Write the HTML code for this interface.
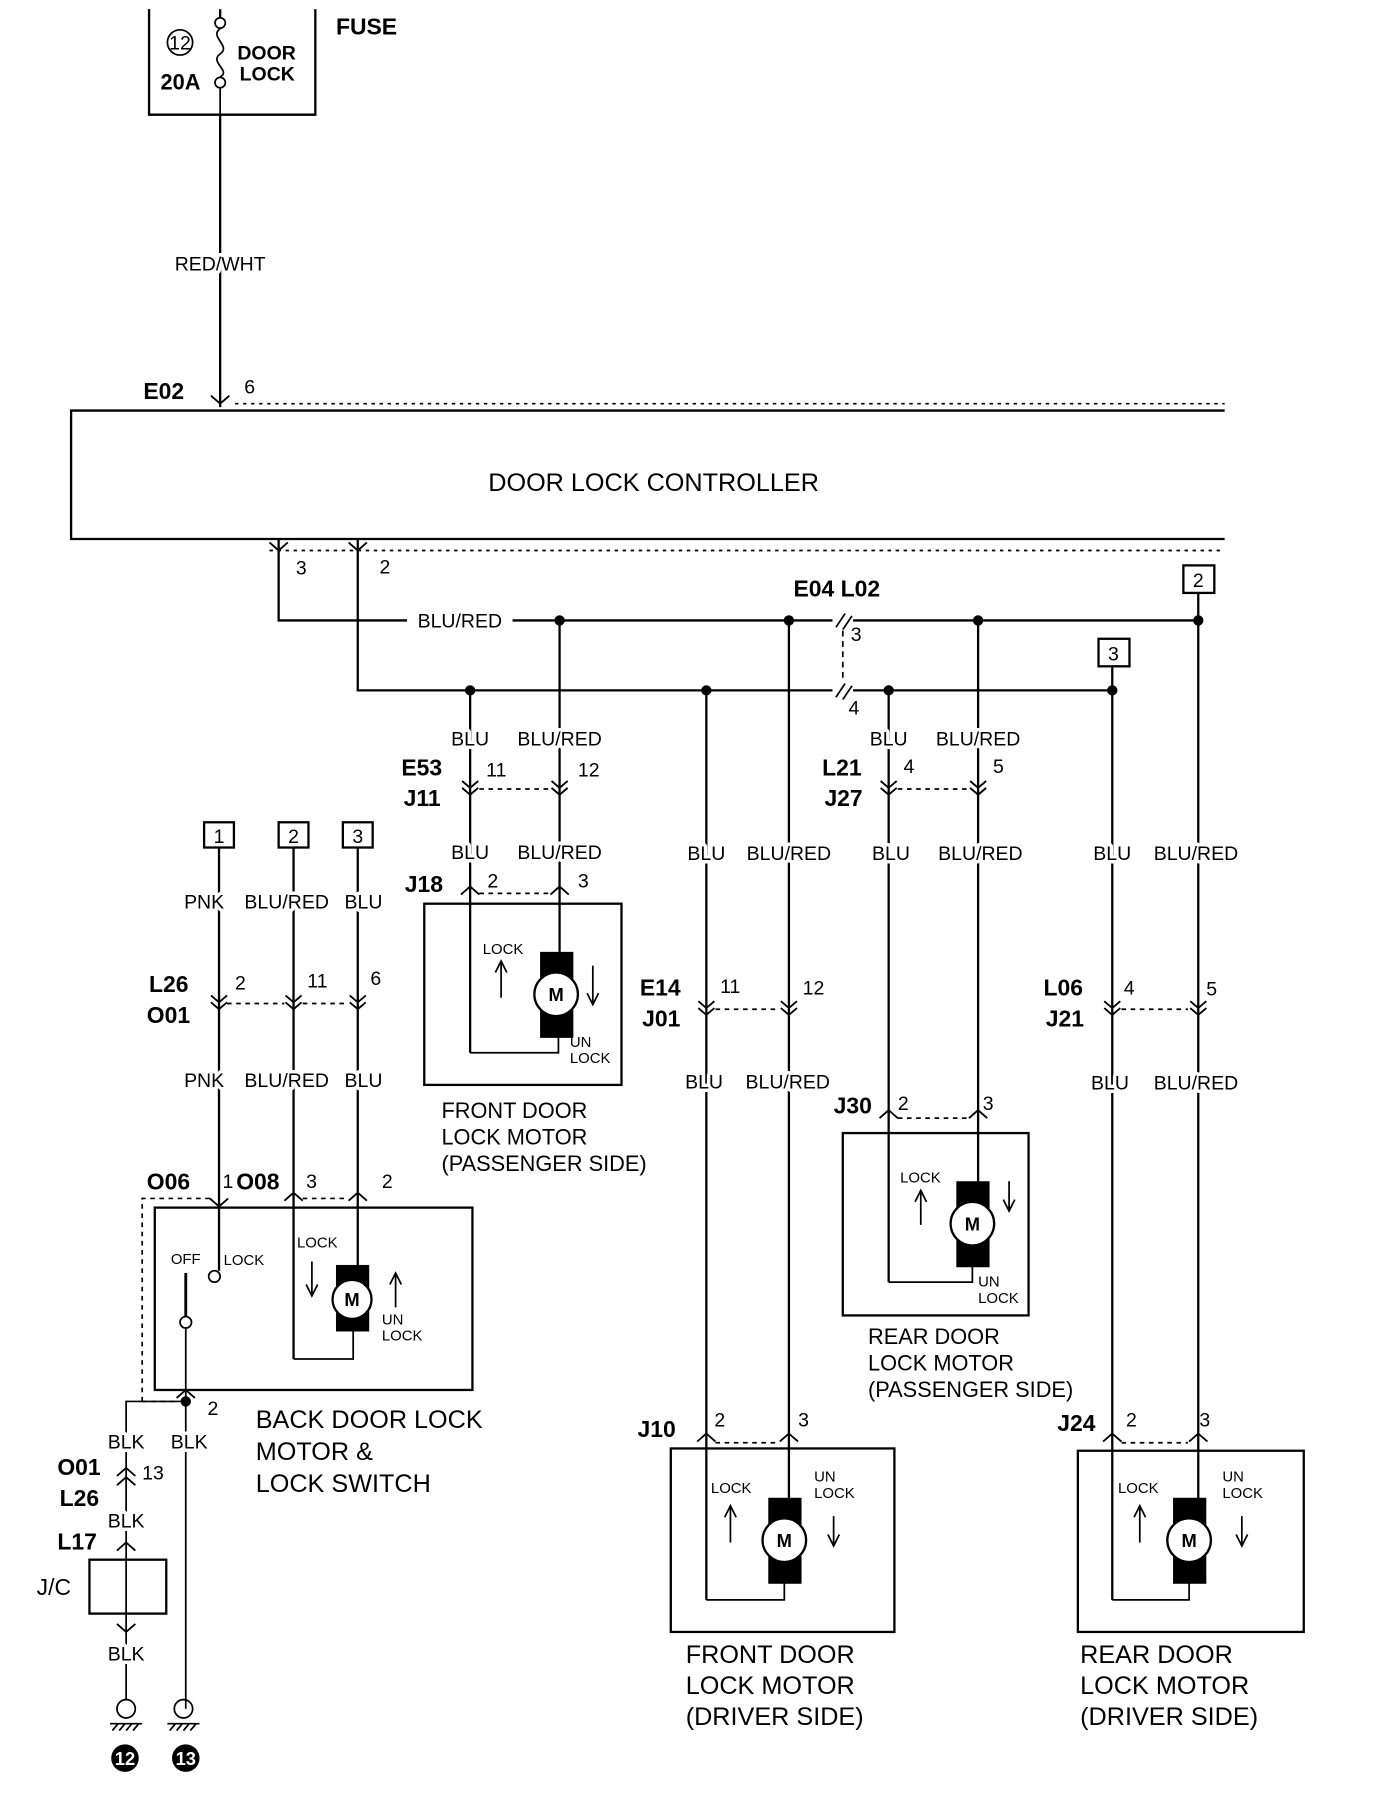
<!DOCTYPE html>
<html><head><meta charset="utf-8"><style>
html,body{margin:0;padding:0;background:#fff;}
svg{display:block;}
text{font-family:"Liberation Sans",sans-serif;fill:#000;}
.s{font-size:17px;}
.b{font-size:20px;font-weight:bold;}
.t{font-size:13px;}
.c{font-size:22px;}
.w{stroke:#fff;stroke-width:6px;paint-order:stroke;stroke-linejoin:round;}
</style></head><body>
<svg width="1376" height="1812" viewBox="0 0 1200 1580" preserveAspectRatio="none" xmlns="http://www.w3.org/2000/svg">
<defs>
<g id="vv"><path d="M-7,-9 L0,-3 L7,-9 M-7,-3 L0,3 L7,-3" fill="none" stroke="#000" stroke-width="1.6"/></g>
<g id="up"><path d="M-8,7 L0,0 L8,7" fill="none" stroke="#000" stroke-width="1.6"/></g>
<g id="dn"><path d="M-8,-7 L0,0 L8,-7" fill="none" stroke="#000" stroke-width="1.6"/></g>
</defs>
<g stroke="#000" fill="none" stroke-width="2">
<path d="M130,8 V100 H275 V8"/>
<line x1="192" y1="100" x2="192" y2="355"/>
<line x1="192" y1="8" x2="192" y2="16"/>
<circle cx="192" cy="20" r="4.5" stroke-width="1.5"/>
<circle cx="192" cy="72" r="4.5" stroke-width="1.5"/>
<path d="M192,25 C182,32 202,40 192,47 C182,54 202,62 192,67" stroke-width="1.5"/>
<line x1="192" y1="77" x2="192" y2="100" stroke-width="1.5"/>
<circle cx="157" cy="37" r="11" stroke-width="1.5"/>
<path d="M1068,358 H62 V470 H1068"/>
<line x1="205" y1="352" x2="1068" y2="352" stroke-dasharray="3,4" stroke-width="1.5"/>
<line x1="235" y1="480" x2="1068" y2="480" stroke-dasharray="3,4" stroke-width="1.5"/>
<path d="M243,470 V541 H355 M447,541 H726 M744,541 H1045"/>
<path d="M312,470 V602 H726 M744,602 H970"/>
<line x1="735" y1="550" x2="735" y2="595" stroke-dasharray="5,4" stroke-width="1.5"/>
<path d="M729,547 L737,535 M735,549 L743,537 M729,608 L737,596 M735,610 L743,598" stroke-width="1.5"/>
<line x1="410" y1="602" x2="410" y2="918"/>
<line x1="488" y1="541" x2="488" y2="830"/>
<line x1="616" y1="602" x2="616" y2="1395"/>
<line x1="688" y1="541" x2="688" y2="1315"/>
<line x1="775" y1="602" x2="775" y2="1118"/>
<line x1="853" y1="541" x2="853" y2="1030"/>
<line x1="970" y1="602" x2="970" y2="1395"/>
<line x1="1045" y1="541" x2="1045" y2="1315"/>
<line x1="1045" y1="517" x2="1045" y2="541"/>
<line x1="970" y1="580" x2="970" y2="602"/>
<rect x="1032" y="493" width="27" height="24"/>
<rect x="958" y="557" width="27" height="24"/>
<line x1="418" y1="688" x2="480" y2="688" stroke-dasharray="4,4" stroke-width="1.5"/>
<line x1="783" y1="688" x2="845" y2="688" stroke-dasharray="4,4" stroke-width="1.5"/>
<line x1="418" y1="779" x2="480" y2="779" stroke-dasharray="4,4" stroke-width="1.5"/>
<line x1="624" y1="880" x2="680" y2="880" stroke-dasharray="4,4" stroke-width="1.5"/>
<line x1="978" y1="880" x2="1036" y2="880" stroke-dasharray="4,4" stroke-width="1.5"/>
<line x1="783" y1="975" x2="845" y2="975" stroke-dasharray="4,4" stroke-width="1.5"/>
<line x1="624" y1="1258" x2="680" y2="1258" stroke-dasharray="4,4" stroke-width="1.5"/>
<line x1="978" y1="1258" x2="1036" y2="1258" stroke-dasharray="4,4" stroke-width="1.5"/>
<rect x="370" y="788" width="172" height="158"/>
<path d="M410,918 H487 V885" stroke-width="1.5"/>
<rect x="735" y="988" width="162" height="159"/>
<path d="M775,1118 H848 V1085" stroke-width="1.5"/>
<rect x="585" y="1263" width="195" height="160"/>
<path d="M616,1395 H684 V1360" stroke-width="1.5"/>
<rect x="940" y="1265" width="197" height="158"/>
<path d="M970,1395 H1037 V1360" stroke-width="1.5"/>
<rect x="178" y="717" width="26" height="22"/>
<rect x="243" y="717" width="26" height="22"/>
<rect x="299" y="717" width="26" height="22"/>
<line x1="191" y1="739" x2="191" y2="1108"/>
<line x1="256" y1="739" x2="256" y2="1185"/>
<line x1="312" y1="739" x2="312" y2="1103"/>
<line x1="198" y1="875" x2="248" y2="875" stroke-dasharray="4,4" stroke-width="1.5"/>
<line x1="264" y1="875" x2="304" y2="875" stroke-dasharray="4,4" stroke-width="1.5"/>
<path d="M124,1222 V1045 H183 M264,1045 H304" stroke-dasharray="4,4" stroke-width="1.5"/>
<line x1="124" y1="1222" x2="155" y2="1222" stroke-dasharray="4,4" stroke-width="1.5"/>
<rect x="135" y="1053" width="277" height="159"/>
<circle cx="187" cy="1113" r="5" stroke-width="1.5"/>
<circle cx="162" cy="1153" r="5" stroke-width="1.5"/>
<line x1="162" y1="1110" x2="162" y2="1148" stroke-width="2.5"/>
<line x1="162" y1="1158" x2="162" y2="1490" stroke-width="1.5"/>
<path d="M256,1185 H308 V1160" stroke-width="1.5"/>
<path d="M162,1222 H110 V1360" stroke-width="1.5"/>
<rect x="78" y="1360" width="67" height="47"/>
<line x1="110" y1="1360" x2="110" y2="1482" stroke-width="1.5"/>
<circle cx="110" cy="1490" r="8" stroke-width="1.5"/>
<circle cx="160" cy="1490" r="8" stroke-width="1.5"/>
<path d="M96,1503 H124 M98,1509 L103,1503 M104,1509 L109,1503 M110,1509 L115,1503 M116,1509 L121,1503 M146,1503 H174 M148,1509 L153,1503 M154,1509 L159,1503 M160,1509 L165,1503 M166,1509 L171,1503" stroke-width="1.5"/>
<path d="M437,870 V840 M432,848 L437,838 L442,848 M517,842 V874 M512,866 L517,876 L522,866" stroke-width="1.5"/>
<path d="M803,1068 V1040 M798,1048 L803,1038 L808,1048 M880,1030 V1054 M875,1046 L880,1056 L885,1046" stroke-width="1.5"/>
<path d="M637,1345 V1315 M632,1323 L637,1313 L642,1323 M727,1322 V1346 M722,1338 L727,1348 L732,1338" stroke-width="1.5"/>
<path d="M994,1345 V1315 M989,1323 L994,1313 L999,1323 M1083,1322 V1346 M1078,1338 L1083,1348 L1088,1338" stroke-width="1.5"/>
<path d="M272,1100 V1128 M267,1120 L272,1130 L277,1120 M345,1140 V1112 M340,1120 L345,1110 L350,1120" stroke-width="1.5"/>
</g>
<g fill="#000">
<circle cx="488" cy="541" r="4.5"/><circle cx="688" cy="541" r="4.5"/><circle cx="853" cy="541" r="4.5"/><circle cx="1045" cy="541" r="4.5"/>
<circle cx="410" cy="602" r="4.5"/><circle cx="616" cy="602" r="4.5"/><circle cx="775" cy="602" r="4.5"/><circle cx="970" cy="602" r="4.5"/>
<circle cx="162" cy="1222" r="4.5"/>
<rect x="471" y="830" width="29" height="75"/><circle cx="485" cy="867" r="19" fill="#fff" stroke="#000" stroke-width="2"/>
<rect x="834" y="1030" width="29" height="75"/><circle cx="848" cy="1067" r="19" fill="#fff" stroke="#000" stroke-width="2"/>
<rect x="670" y="1306" width="29" height="75"/><circle cx="684" cy="1343" r="19" fill="#fff" stroke="#000" stroke-width="2"/>
<rect x="1023" y="1306" width="29" height="75"/><circle cx="1037" cy="1343" r="19" fill="#fff" stroke="#000" stroke-width="2"/>
<rect x="293" y="1103" width="29" height="58"/><circle cx="307" cy="1133" r="17" fill="#fff" stroke="#000" stroke-width="2"/>
<circle cx="109" cy="1533" r="12"/><circle cx="162" cy="1533" r="12"/>
</g>
<use href="#dn" x="192" y="352"/>
<use href="#dn" x="243" y="480"/><use href="#dn" x="312" y="480"/>
<use href="#vv" x="410" y="690"/><use href="#vv" x="488" y="690"/>
<use href="#vv" x="775" y="690"/><use href="#vv" x="853" y="690"/>
<use href="#up" x="410" y="773"/><use href="#up" x="488" y="773"/>
<use href="#vv" x="616" y="882"/><use href="#vv" x="688" y="882"/>
<use href="#vv" x="970" y="882"/><use href="#vv" x="1045" y="882"/>
<use href="#up" x="775" y="968"/><use href="#up" x="853" y="968"/>
<use href="#up" x="616" y="1250"/><use href="#up" x="688" y="1250"/>
<use href="#up" x="970" y="1250"/><use href="#up" x="1045" y="1250"/>
<use href="#vv" x="191" y="877"/><use href="#vv" x="256" y="877"/><use href="#vv" x="312" y="877"/>
<use href="#dn" x="191" y="1052"/><use href="#up" x="256" y="1040"/><use href="#up" x="312" y="1040"/>
<use href="#up" x="162" y="1212"/>
<use href="#up" x="110" y="1280"/><use href="#up" x="110" y="1288"/>
<use href="#up" x="110" y="1345"/><use href="#dn" x="110" y="1423"/>
<text x="157" y="43" class="s" text-anchor="middle">12</text>
<text x="140" y="78" class="b" style="font-size:19px">20A</text>
<text x="207" y="52" class="s" font-weight="bold">DOOR</text>
<text x="209" y="70" class="s" font-weight="bold">LOCK</text>
<text x="293" y="30" class="b">FUSE</text>
<text x="192" y="236" class="s w" text-anchor="middle">RED/WHT</text>
<text x="125" y="348" class="b">E02</text>
<text x="213" y="343" class="s">6</text>
<text x="570" y="428" class="c" text-anchor="middle">DOOR LOCK CONTROLLER</text>
<text x="258" y="501" class="s">3</text>
<text x="331" y="500" class="s">2</text>
<text x="401" y="547" class="s" text-anchor="middle">BLU/RED</text>
<text x="692" y="520" class="b">E04 L02</text>
<text x="742" y="559" class="s">3</text>
<text x="740" y="623" class="s">4</text>
<text x="1045" y="512" class="s" text-anchor="middle">2</text>
<text x="971" y="576" class="s" text-anchor="middle">3</text>
<text x="191" y="735" class="s" text-anchor="middle">1</text>
<text x="256" y="735" class="s" text-anchor="middle">2</text>
<text x="312" y="735" class="s" text-anchor="middle">3</text>
<g class="s w" text-anchor="middle">
<text x="410" y="650">BLU</text><text x="488" y="650">BLU/RED</text>
<text x="775" y="650">BLU</text><text x="853" y="650">BLU/RED</text>
<text x="410" y="749">BLU</text><text x="488" y="749">BLU/RED</text>
<text x="616" y="750">BLU</text><text x="688" y="750">BLU/RED</text>
<text x="777" y="750">BLU</text><text x="855" y="750">BLU/RED</text>
<text x="970" y="750">BLU</text><text x="1043" y="750">BLU/RED</text>
<text x="614" y="949">BLU</text><text x="687" y="949">BLU/RED</text>
<text x="968" y="950">BLU</text><text x="1043" y="950">BLU/RED</text>
<text x="178" y="792">PNK</text><text x="250" y="792">BLU/RED</text><text x="317" y="792">BLU</text>
<text x="178" y="948">PNK</text><text x="250" y="948">BLU/RED</text><text x="317" y="948">BLU</text>
<text x="110" y="1263">BLK</text><text x="165" y="1263">BLK</text>
<text x="110" y="1332">BLK</text><text x="110" y="1448">BLK</text>
</g>
<g class="s">
<text x="424" y="677">11</text><text x="504" y="677">12</text>
<text x="788" y="674">4</text><text x="866" y="674">5</text>
<text x="425" y="774">2</text><text x="504" y="774">3</text>
<text x="628" y="866">11</text><text x="700" y="867">12</text>
<text x="980" y="867">4</text><text x="1052" y="868">5</text>
<text x="783" y="968">2</text><text x="857" y="968">3</text>
<text x="623" y="1244">2</text><text x="696" y="1244">3</text>
<text x="982" y="1244">2</text><text x="1046" y="1244">3</text>
<text x="205" y="863">2</text><text x="268" y="861">11</text><text x="323" y="859">6</text>
<text x="194" y="1036">1</text><text x="267" y="1036">3</text><text x="333" y="1036">2</text>
<text x="181" y="1234">2</text><text x="124" y="1290">13</text>
<text x="32" y="1391" style="font-size:20px">J/C</text>
</g>
<g class="b">
<text x="350" y="676">E53</text><text x="352" y="703">J11</text>
<text x="717" y="676">L21</text><text x="719" y="703">J27</text>
<text x="353" y="778">J18</text>
<text x="558" y="868">E14</text><text x="560" y="895">J01</text>
<text x="910" y="868">L06</text><text x="912" y="895">J21</text>
<text x="727" y="971">J30</text>
<text x="556" y="1253">J10</text><text x="922" y="1248">J24</text>
<text x="130" y="865">L26</text><text x="128" y="892">O01</text>
<text x="128" y="1037">O06</text><text x="206" y="1037">O08</text>
<text x="50" y="1286">O01</text><text x="52" y="1313">L26</text><text x="50" y="1351">L17</text>
</g>
<g class="t">
<text x="421" y="832">LOCK</text><text x="497" y="913">UN</text><text x="497" y="927">LOCK</text>
<text x="785" y="1031">LOCK</text><text x="853" y="1122">UN</text><text x="853" y="1136">LOCK</text>
<text x="620" y="1302">LOCK</text><text x="710" y="1292">UN</text><text x="710" y="1306">LOCK</text>
<text x="975" y="1302">LOCK</text><text x="1066" y="1292">UN</text><text x="1066" y="1306">LOCK</text>
<text x="149" y="1102">OFF</text><text x="195" y="1103">LOCK</text>
<text x="259" y="1088">LOCK</text><text x="333" y="1155">UN</text><text x="333" y="1169">LOCK</text>
</g>
<g style="font-size:19px">
<text x="385" y="975">FRONT DOOR</text><text x="385" y="998">LOCK MOTOR</text><text x="385" y="1021">(PASSENGER SIDE)</text>
<text x="757" y="1172">REAR DOOR</text><text x="757" y="1195">LOCK MOTOR</text><text x="757" y="1218">(PASSENGER SIDE)</text>
</g>
<g class="c">
<text x="223" y="1245">BACK DOOR LOCK</text><text x="223" y="1273">MOTOR &amp;</text><text x="223" y="1301">LOCK SWITCH</text>
<text x="598" y="1450">FRONT DOOR</text><text x="598" y="1477">LOCK MOTOR</text><text x="598" y="1504">(DRIVER SIDE)</text>
<text x="942" y="1450">REAR DOOR</text><text x="942" y="1477">LOCK MOTOR</text><text x="942" y="1504">(DRIVER SIDE)</text>
</g>
<g font-weight="bold" font-size="16" text-anchor="middle">
<text x="485" y="873">M</text><text x="848" y="1073">M</text><text x="684" y="1349">M</text><text x="1037" y="1349">M</text><text x="307" y="1139">M</text>
<text x="109" y="1539" style="fill:#fff">12</text><text x="162" y="1539" style="fill:#fff">13</text>
</g>
</svg>
</body></html>
